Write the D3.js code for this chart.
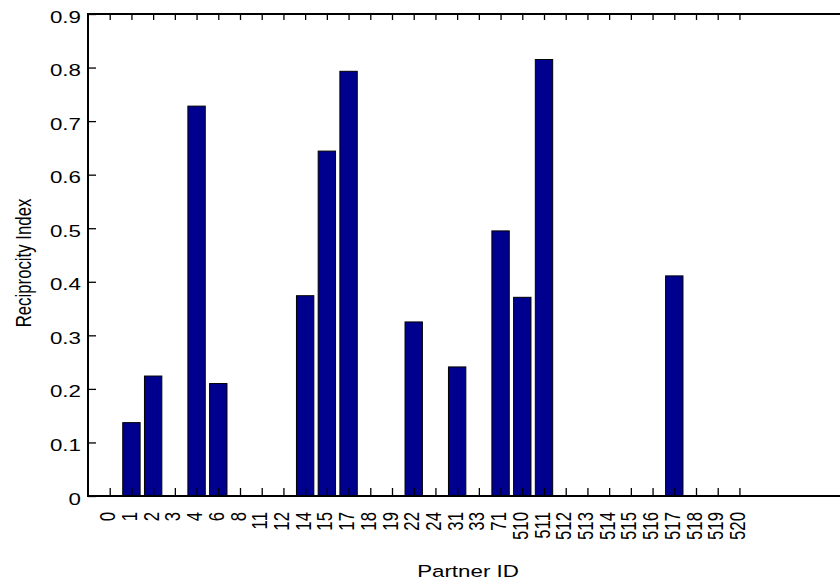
<!DOCTYPE html>
<html>
<head>
<meta charset="utf-8">
<script src="https://cdn.jsdelivr.net/npm/d3@7"></script>
<style>
  html, body { margin: 0; padding: 0; background: #fff; }
  svg { display: block; }
  text { font-family: "Liberation Sans", Arial, Helvetica, sans-serif; fill: #000; }
</style>
</head>
<body>
<svg id="chart" width="840" height="585"></svg>
<script>
// Partner IDs shown along the x axis
const partners = ["0","1","2","3","4","6","8","11","12","14","15","17","18","19","22","24",
  "31","33","71","510","511","512","513","514","515","516","517","518","519","520"];

// Reciprocity index per partner
const reciprocity = [0, 0.137, 0.224, 0, 0.728, 0.210, 0, 0, 0, 0.374, 0.644, 0.793, 0, 0,
  0.325, 0, 0.241, 0, 0.495, 0.371, 0.815, 0, 0, 0, 0, 0, 0.411, 0, 0, 0];

// Y axis tick values
const yTicks = [0, 0.1, 0.2, 0.3, 0.4, 0.5, 0.6, 0.7, 0.8, 0.9];

const W = 840, H = 585;
const plotL = 88, plotR = 848, plotT = 14, plotB = 496;
const SX = 1.33;          // horizontal text stretch
const FS = 16.8;          // font size

const svg = d3.select("#chart");
svg.append("rect").attr("width", W).attr("height", H).attr("fill", "#fff");

const x = d3.scaleLinear().domain([0, 35]).range([plotL, plotR]);
const y = d3.scaleLinear().domain([0, 0.9]).range([plotB, plotT]);

const idx = d3.range(1, partners.length + 1);

// bars
const barW = x(0.8) - x(0);
svg.append("g").selectAll("rect")
  .data(reciprocity.map((v, i) => ({ v, i: i + 1 })).filter(d => d.v > 0))
  .join("rect")
  .attr("x", d => x(d.i) - barW / 2)
  .attr("width", barW)
  .attr("y", d => y(d.v))
  .attr("height", d => y(0) - y(d.v))
  .attr("fill", "#00008f")
  .attr("stroke", "#000")
  .attr("stroke-width", 1);

// bottom axis with rotated partner labels
const gx = svg.append("g").attr("transform", `translate(0,${plotB})`)
  .call(d3.axisBottom(x).tickValues(idx).tickFormat(i => partners[i - 1])
    .tickSizeInner(-8).tickSizeOuter(0));
gx.select(".domain").remove();
gx.selectAll("line").attr("stroke", "#000").attr("stroke-width", 1.3);
gx.selectAll("text")
  .attr("x", null).attr("y", null).attr("dy", null)
  .attr("text-anchor", "end")
  .attr("font-size", FS)
  .attr("transform", `translate(5,16) scale(${SX},1) rotate(-90)`);

// top ticks
const gt = svg.append("g").attr("transform", `translate(0,${plotT})`)
  .call(d3.axisTop(x).tickValues(idx).tickFormat("").tickSizeInner(-6).tickSizeOuter(0));
gt.select(".domain").remove();
gt.selectAll("line").attr("stroke", "#000").attr("stroke-width", 1.3);

// left axis
const gy = svg.append("g").attr("transform", `translate(${plotL},0)`)
  .call(d3.axisLeft(y).tickValues(yTicks)
    .tickFormat(d => d === 0 ? "0" : d3.format(".1f")(d))
    .tickSizeInner(-8).tickSizeOuter(0));
gy.select(".domain").remove();
gy.selectAll("line").attr("stroke", "#000").attr("stroke-width", 1.3);
gy.selectAll("text")
  .attr("x", null).attr("y", null).attr("dy", null)
  .attr("text-anchor", "end")
  .attr("font-size", FS)
  .attr("transform", `translate(-7,8) scale(${SX},1)`);

// right axis ticks
const gr = svg.append("g").attr("transform", `translate(${plotR},0)`)
  .call(d3.axisRight(y).tickValues(yTicks).tickFormat("").tickSizeInner(-8).tickSizeOuter(0));
gr.select(".domain").remove();
gr.selectAll("line").attr("stroke", "#000").attr("stroke-width", 1.3);

// plot frame
svg.append("rect")
  .attr("x", plotL).attr("y", plotT)
  .attr("width", plotR - plotL).attr("height", plotB - plotT)
  .attr("fill", "none").attr("stroke", "#000").attr("stroke-width", 2);

// axis titles
svg.append("text")
  .attr("text-anchor", "middle")
  .attr("font-size", FS)
  .attr("transform", `translate(${(plotL + plotR) / 2},577) scale(${SX},1)`)
  .text("Partner ID");

svg.append("text")
  .attr("text-anchor", "middle")
  .attr("font-size", FS)
  .attr("transform", `translate(31,263) scale(${SX},1) rotate(-90)`)
  .text("Reciprocity Index");
</script>
</body>
</html>
